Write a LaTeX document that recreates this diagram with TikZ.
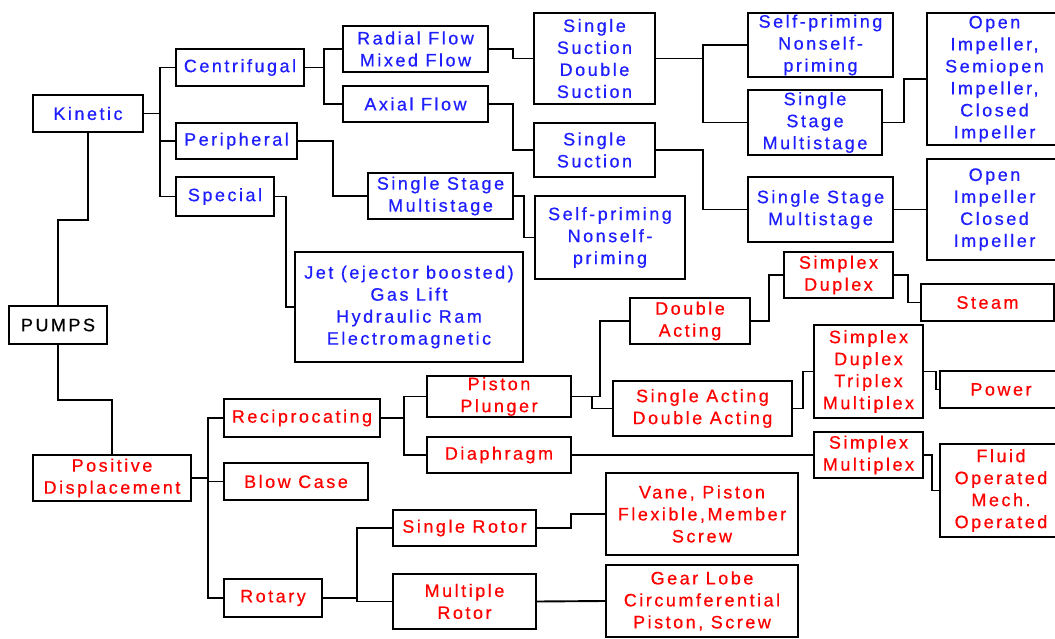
\documentclass[tikz,border=0pt]{standalone}
\usepackage{fontspec}
\setmainfont{Liberation Sans}[LetterSpace=14,FakeBold=0.6]
\definecolor{kblue}{RGB}{30,30,255}
\definecolor{pred}{RGB}{255,0,0}
\begin{document}
\begin{tikzpicture}[x=1pt,y=-1pt,
  bx/.style={draw=black,line width=2.4pt,fill=white,inner sep=0pt,align=center,
    font=\fontsize{18}{22}\selectfont},
  kb/.style={bx,text=kblue},
  pr/.style={bx,text=pred},
  cn/.style={draw=black,line width=1.9pt}]
\clip (0,0) rectangle (1055,639);
\fill[white] (0,0) rectangle (1055,639);
% ---- nodes ----
\node[kb,minimum width=110,minimum height=37] (kin) at (88,113.5) {Kinetic};
\node[kb,minimum width=128,minimum height=37] (cen) at (240,67.5) {Centrifugal};
\node[kb,minimum width=121,minimum height=36] (per) at (236.5,141) {Peripheral};
\node[kb,minimum width=98,minimum height=39] (spe) at (225,196.5) {Special};
\node[kb,minimum width=145,minimum height=46] (rad) at (415.5,49) {Radial Flow\\Mixed Flow};
\node[kb,minimum width=145,minimum height=36] (axi) at (415.5,104) {Axial Flow};
\node[kb,minimum width=121,minimum height=91] (ssds) at (594.5,58.5) {Single\\Suction\\Double\\Suction};
\node[kb,minimum width=121,minimum height=54] (ss) at (594.5,150) {Single\\Suction};
\node[kb,minimum width=145,minimum height=46] (ssmA) at (440.5,196) {Single Stage\\Multistage};
\node[kb,minimum width=150,minimum height=83] (spnB) at (610,237.5) {Self-priming\\Nonself-\\priming};
\node[kb,minimum width=145,minimum height=64] (spnA) at (820.5,45) {Self-priming\\Nonself-\\priming};
\node[kb,minimum width=134,minimum height=65] (ssmB) at (815,122.5) {Single\\Stage\\Multistage};
\node[kb,minimum width=135,minimum height=132] (oiA) at (994.5,79) {Open\\Impeller,\\Semiopen\\Impeller,\\Closed\\Impeller};
\node[kb,minimum width=145,minimum height=65] (ssmC) at (820.5,209.5) {Single Stage\\Multistage};
\node[kb,minimum width=135,minimum height=101] (oiB) at (994.5,209.5) {Open\\Impeller\\Closed\\Impeller};
\node[kb,minimum width=228,minimum height=110] (jet) at (409,307) {Jet (ejector boosted)\\Gas Lift\\Hydraulic Ram\\Electromagnetic};
\node[bx,minimum width=98,minimum height=38] (pumps) at (58,325) {PUMPS};
\node[pr,minimum width=158,minimum height=46] (pd) at (112,478) {Positive\\Displacement};
\node[pr,minimum width=156,minimum height=38] (rec) at (302,418) {Reciprocating};
\node[pr,minimum width=144,minimum height=37] (blow) at (296,481.5) {Blow Case};
\node[pr,minimum width=98,minimum height=38] (rot) at (273,598) {Rotary};
\node[pr,minimum width=144,minimum height=41] (pp) at (499,396.5) {Piston\\Plunger};
\node[pr,minimum width=144,minimum height=36] (dia) at (499,455) {Diaphragm};
\node[pr,minimum width=120,minimum height=46] (da) at (690,321) {Double\\Acting};
\node[pr,minimum width=179,minimum height=55] (sada) at (702.5,408.5) {Single Acting\\Double Acting};
\node[pr,minimum width=109,minimum height=46] (sd) at (838.5,275) {Simplex\\Duplex};
\node[pr,minimum width=133,minimum height=37] (steam) at (987.5,302.5) {Steam};
\node[pr,minimum width=109,minimum height=93] (sdtm) at (868.5,371.5) {Simplex\\Duplex\\Triplex\\Multiplex};
\node[pr,minimum width=122,minimum height=37] (power) at (1001,389.5) {Power};
\node[pr,minimum width=109,minimum height=46] (sm) at (868.5,455) {Simplex\\Multiplex};
\node[pr,minimum width=122,minimum height=93] (fluid) at (1001,490.5) {Fluid\\Operated\\Mech.\\Operated};
\node[pr,minimum width=143,minimum height=36] (sr) at (464.5,528) {Single Rotor};
\node[pr,minimum width=143,minimum height=55] (mr) at (464.5,601.5) {Multiple\\Rotor};
\node[pr,minimum width=192,minimum height=82] (vane) at (702,514) {Vane, Piston\\Flexible,Member\\Screw};
\node[pr,minimum width=192,minimum height=72] (gear) at (702,601) {Gear Lobe\\Circumferential\\Piston, Screw};
% ---- connectors ----
\draw[cn] (kin.east) -- ++(16,0) |- (cen.west);
\draw[cn] (kin.east) ++(16,0) |- (per.west);
\draw[cn] (kin.east) ++(16,0) |- (spe.west);
\draw[cn] (kin.south) -- ++(0,87) -| (pumps.north);
\draw[cn] (pumps.south) -- ++(0,55) -| (pd.north);
\draw[cn] (cen.east) -- ++(19,0) |- (rad.west);
\draw[cn] (cen.east) ++(19,0) |- (axi.west);
\draw[cn] (per.east) -- ++(35,0) |- (ssmA.west);
\draw[cn] (spe.east) -- ++(11,0) |- (jet.west);
\draw[cn] (rad.east) -- ++(24,0) |- (ssds.west);
\draw[cn] (axi.east) -- ++(24,0) |- (ss.west);
\draw[cn] (ssmA.east) -- ++(10,0) |- (spnB.west);
\draw[cn] (ssds.east) -- ++(47,0) |- (spnA.west);
\draw[cn] (ssds.east) ++(47,0) |- (ssmB.west);
\draw[cn] (ssmB.east) -- ++(21,0) |- (oiA.west);
\draw[cn] (ss.east) -- ++(47,0) |- (ssmC.west);
\draw[cn] (ssmC.east) -- (oiB.west);
\draw[cn] (pd.east) -- ++(16,0) |- (rec.west);
\draw[cn] (pd.east) ++(16,0) |- (blow.west);
\draw[cn] (pd.east) ++(16,0) |- (rot.west);
\draw[cn] (rec.east) -- ++(23,0) |- (pp.west);
\draw[cn] (rec.east) ++(23,0) |- (dia.west);
\draw[cn] (pp.east) -- ++(28,0) |- (da.west);
\draw[cn] (pp.east) -- ++(20,0) |- (sada.west);
\draw[cn] (dia.east) -- (sm.west);
\draw[cn] (da.east) -- ++(18,0) |- (sd.west);
\draw[cn] (sd.east) -- ++(14,0) |- (steam.west);
\draw[cn] (sada.east) -- ++(10,0) |- (sdtm.west);
\draw[cn] (sdtm.east) -- ++(12,0) |- (power.west);
\draw[cn] (sm.east) -- ++(8,0) |- (fluid.west);
\draw[cn] (rot.east) -- ++(34,0) |- (sr.west);
\draw[cn] (rot.east) ++(34,0) |- (mr.west);
\draw[cn] (sr.east) -- ++(34,0) |- (vane.west);
\draw[cn] (mr.east) -- (gear.west);
\end{tikzpicture}
\end{document}
